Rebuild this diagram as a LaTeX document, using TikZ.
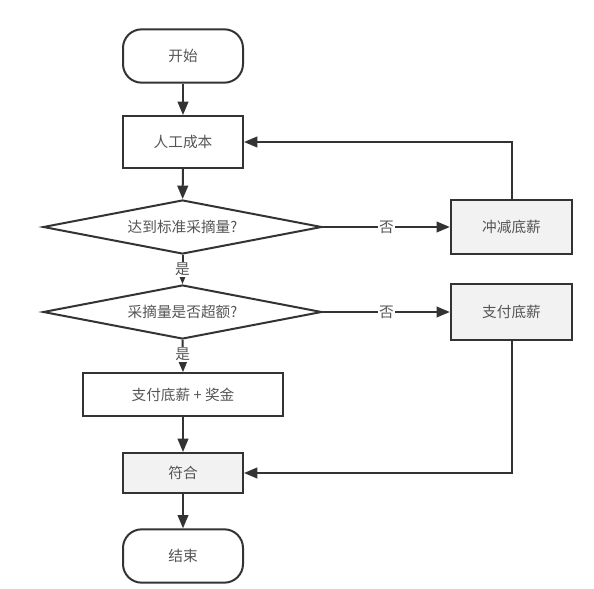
\documentclass[tikz,border=0pt]{standalone}
\usepackage{fontspec}
\setmainfont{Noto Sans CJK SC}
\usetikzlibrary{arrows.meta,shapes.geometric}
\definecolor{edge}{HTML}{333333}
\definecolor{txt}{HTML}{555555}
\definecolor{boxfill}{HTML}{F2F2F2}
\begin{document}
\begin{tikzpicture}[x=0.75pt,y=-0.75pt,
  font=\fontsize{11pt}{13pt}\selectfont, text=txt,
  base/.style={draw=edge, line width=1.5pt, inner sep=0pt},
  terminal/.style={base, rounded corners=14pt, minimum width=90pt, minimum height=40pt, fill=white},
  proc/.style={base, minimum width=90pt, minimum height=39pt, fill=white},
  grayproc/.style={proc, fill=boxfill},
  decision/.style={base, diamond, aspect=5.17, minimum width=209pt, minimum height=40.5pt, fill=white},
  conn/.style={draw=edge, line width=1.5pt, -{Triangle[length=10pt,width=8pt]}},
  lbl/.style={fill=white, inner sep=1pt, text=txt}]
\useasboundingbox (0,0) rectangle (594,589);
\node[terminal] (start) at (183,56) {开始};
\node[proc] (cost) at (183,142) {人工成本};
\node[decision] (d1) at (182.5,227) {达到标准采摘量?};
\node[decision] (d2) at (182.5,312) {采摘量是否超额?};
\node[grayproc, minimum width=91pt, minimum height=40.5pt] (cut) at (511.5,227) {冲减底薪};
\node[grayproc, minimum width=91pt, minimum height=42pt] (pay) at (511.5,312) {支付底薪};
\node[proc, minimum width=150pt, minimum height=32pt] (bonus) at (183,394.5) {支付底薪 + 奖金};
\node[grayproc, minimum height=30pt] (ok) at (183,473) {符合};
\node[terminal] (end) at (183,556) {结束};
\draw[conn] (start) -- (cost);
\draw[conn] (cost) -- (d1);
\draw[conn] (d1.east) -- node[lbl]{否} (cut.west);
\draw[conn] (d2.east) -- node[lbl]{否} (pay.west);
\draw[conn] (d1.south) -- node[lbl, pos=0.5]{是} (d2.north);
\draw[conn] (d2.south) -- node[lbl, pos=0.45]{是} (bonus.north);
\draw[conn] (bonus) -- (ok);
\draw[conn] (ok) -- (end);
\draw[conn] (cut.north) |- (cost.east);
\draw[conn] (pay.south) |- (ok.east);
\end{tikzpicture}
\end{document}
